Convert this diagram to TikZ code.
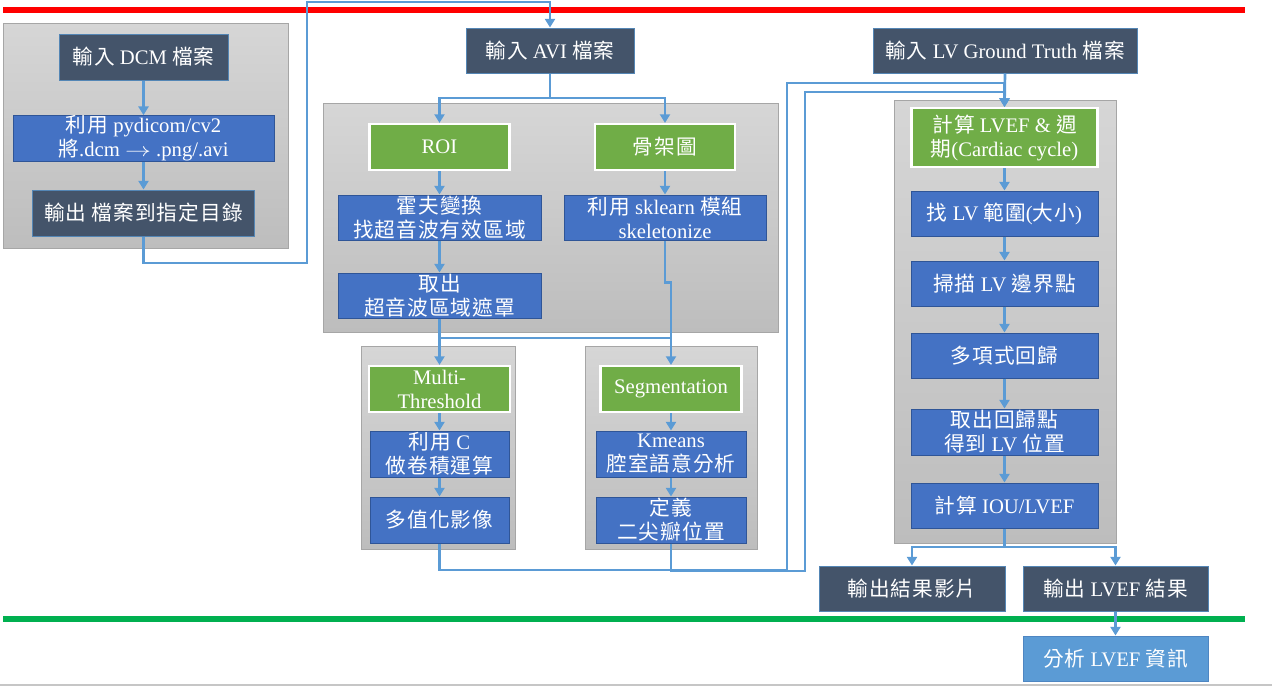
\documentclass[tikz,border=0pt]{standalone}
\usepackage{fontspec}
\usepackage{graphicx}
\setmainfont{Liberation Serif}
\newfontfamily\cjk[LetterSpace=5]{Noto Sans CJK TC}
\usetikzlibrary{arrows.meta}
\definecolor{dk}{HTML}{44546A}
\definecolor{bl}{HTML}{4472C4}
\definecolor{blb}{HTML}{2F5597}
\definecolor{gr}{HTML}{70AD47}
\definecolor{lb}{HTML}{5B9BD5}
\definecolor{gtop}{HTML}{D6D6D6}
\definecolor{gbot}{HTML}{BDBDBD}
\definecolor{gbd}{HTML}{A6A6A6}
\definecolor{rl}{HTML}{FF0000}
\definecolor{gl}{HTML}{00B050}
\newcommand\zh[1]{{\cjk #1}}
\begin{document}
\begin{tikzpicture}[x=0.75pt,y=-0.75pt,
  sz/.style 2 args={minimum width=#1*0.75pt,minimum height=#2*0.75pt},
  basebox/.style={inner sep=0pt,align=center,text=white,font=\fontsize{15.5}{18}\selectfont},
  dkbox/.style={basebox,fill=dk,draw=lb!70!dk,line width=0.75pt},
  blbox/.style={basebox,fill=bl,draw=blb,line width=0.75pt},
  grbox/.style={basebox,fill=gr,draw=white,line width=1.6pt},
  lbbox/.style={basebox,fill=lb,draw=lb!70!blb,line width=0.75pt},
  grp/.style={inner sep=0pt,draw=gbd,line width=0.75pt,top color=gtop,bottom color=gbot},
  conn/.style={draw=lb,line width=2pt},
  arr/.style={-{Triangle[width=7.5pt,length=6.5pt]}}
]
\useasboundingbox (0,0) rectangle (1272,686);
% rules
\draw[rl,line width=4.5pt] (3,10) -- (1245,10);
\draw[gl,line width=4.5pt] (3,619) -- (1245,619);
\draw[gray!45,line width=0.9pt] (0,685) -- (1272,685);
% groups
\node[grp,sz={285}{225}] (g1) at (145.5,135.5) {};
\node[grp,sz={455}{229}] (g2) at (550.5,217.5) {};
\node[grp,sz={154}{203}] (g3) at (438,447.5) {};
\node[grp,sz={172}{203}] (g4) at (671,447.5) {};
\node[grp,sz={222}{443}] (g5) at (1005,321.5) {};
% left
\node[dkbox,sz={169}{46}] (dcm) at (143.5,57) {\zh{輸入} DCM \zh{檔案}};
\node[blbox,sz={261}{45}] (conv) at (143.5,138.5) {\zh{利用} pydicom/cv2\\\zh{將}.dcm \scalebox{1.35}[1]{$\rightarrow$} .png/.avi};
\node[dkbox,sz={222}{46}] (outdir) at (143.5,213) {\zh{輸出} \zh{檔案到指定目錄}};
% AVI
\node[dkbox,sz={168}{45}] (avi) at (550,50.5) {\zh{輸入} AVI \zh{檔案}};
\node[grbox,sz={140}{46}] (roi) at (439.5,147) {ROI};
\node[grbox,sz={140}{46}] (skel) at (665,147) {\zh{骨架圖}};
\node[blbox,sz={203}{45}] (hough) at (439.5,217.5) {\zh{霍夫變換}\\\zh{找超音波有效區域}};
\node[blbox,sz={202}{45}] (sk) at (665,217.5) {\zh{利用} sklearn \zh{模組}\\skeletonize};
\node[blbox,sz={203}{45}] (mask) at (439.5,295.5) {\zh{取出}\\\zh{超音波區域遮罩}};
\node[grbox,sz={141}{46}] (multi) at (439.5,389) {Multi-\\Threshold};
\node[blbox,sz={139}{46}] (convc) at (439.5,454) {\zh{利用} C\\\zh{做卷積運算}};
\node[blbox,sz={139}{46}] (mv) at (439.5,520) {\zh{多值化影像}};
\node[grbox,sz={141}{46}] (seg) at (671,389) {Segmentation};
\node[blbox,sz={150}{46}] (km) at (671,454) {Kmeans\\\zh{腔室語意分析}};
\node[blbox,sz={150}{46}] (def) at (671,520) {\zh{定義}\\\zh{二尖瓣位置}};
% right
\node[dkbox,sz={264}{45}] (lvgt) at (1005,50.5) {\zh{輸入} LV Ground Truth \zh{檔案}};
\node[grbox,sz={186}{59}] (lvef) at (1004.5,137.5) {\zh{計算} LVEF \& \zh{週}\\\zh{期}(Cardiac cycle)};
\node[blbox,sz={187}{45}] (f1) at (1004.5,213.5) {\zh{找} LV \zh{範圍}(\zh{大小})};
\node[blbox,sz={187}{45}] (f2) at (1004.5,283.5) {\zh{掃描} LV \zh{邊界點}};
\node[blbox,sz={187}{45}] (f3) at (1004.5,355.5) {\zh{多項式回歸}};
\node[blbox,sz={187}{46}] (f4) at (1004.5,432) {\zh{取出回歸點}\\\zh{得到} LV \zh{位置}};
\node[blbox,sz={187}{45}] (f5) at (1004.5,505.5) {\zh{計算} IOU/LVEF};
\node[dkbox,sz={186}{45}] (outvid) at (912,588.5) {\zh{輸出結果影片}};
\node[dkbox,sz={185}{45}] (outlv) at (1115.5,588.5) {\zh{輸出} LVEF \zh{結果}};
\node[lbbox,sz={185}{45}] (ana) at (1115.5,658.5) {\zh{分析} LVEF \zh{資訊}};
% connectors
\draw[conn,arr] (dcm.south) -- (conv.north);
\draw[conn,arr] (conv.south) -- (outdir.north);
\draw[conn,arr] (outdir.south) |- (307,263) -- (307,2) -| (avi.north);
\draw[conn] (avi.south) -- (550,98) coordinate (sp1);
\draw[conn,arr] (sp1) -| (roi.north);
\draw[conn,arr] (sp1) -| (skel.north);
\draw[conn,arr] (roi.south) -- (hough.north);
\draw[conn,arr] (hough.south) -- (mask.north);
\draw[conn,arr] (skel.south) -- (sk.north);
\coordinate (bar) at (0,338);
\draw[conn,arr] (mask.south) -- (multi.north);
\draw[conn,arr] (sk.south) -- ++(0,42) -| (seg.north);
\draw[conn] (mask.south |- bar) -- (seg.north |- bar);
\draw[conn,arr] (multi.south) -- (convc.north);
\draw[conn,arr] (convc.south) -- (mv.north);
\draw[conn,arr] (seg.south) -- (km.north);
\draw[conn,arr] (km.south) -- (def.north);
\draw[conn,arr] (mv.south) |- (787,570) -- (787,83) -| (lvef.north);
\draw[conn,arr] (def.south) |- (805,571) -- (805,92) -| (lvef.north);
\draw[conn,arr] (lvgt.south) -- (lvef.north);
\draw[conn,arr] (lvef.south) -- (f1.north);
\draw[conn,arr] (f1.south) -- (f2.north);
\draw[conn,arr] (f2.south) -- (f3.north);
\draw[conn,arr] (f3.south) -- (f4.north);
\draw[conn,arr] (f4.south) -- (f5.north);
\draw[conn] (f5.south) -- (1004.5,547) coordinate (sp2);
\draw[conn,arr] (sp2) -| (outvid.north);
\draw[conn,arr] (sp2) -| (outlv.north);
\draw[conn,arr] (outlv.south) -- (ana.north);
\end{tikzpicture}
\end{document}
